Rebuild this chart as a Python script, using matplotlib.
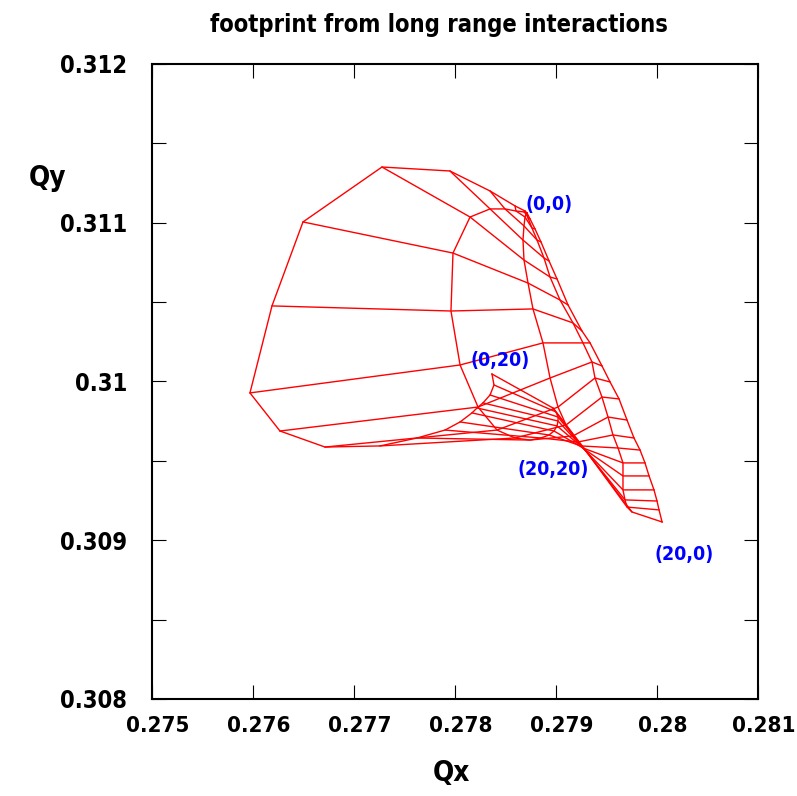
import numpy as np
import matplotlib.pyplot as plt
import matplotlib.transforms as mtransforms


# -----------------------------
# Footprint mesh
# each ray = one amplitude direction, index = amplitude step 0..20
# -----------------------------

qx_t0=[0.278713,0.278693,0.278594,0.278347,0.277950,0.277277,0.276495,0.276188,0.275970,0.276267,0.276713,
       0.277257,0.277624,0.277901,0.278050,0.278168,0.278218,0.278277,0.278347,0.278386,0.278366]
qy_t0=[0.311061,0.311074,0.311106,0.311200,0.311326,0.311351,0.311005,0.310476,0.309928,0.309688,0.309587,
       0.309594,0.309644,0.309694,0.309745,0.309802,0.309833,0.309865,0.309915,0.309978,0.310047]

qx_t1=[0.278713,0.278683,0.278604,0.278495,0.278347,0.278149,0.277980,0.277960,0.278050,0.278228,0.278416,
       0.278594,0.278743,0.278851,0.278931,0.278980,0.279010,0.279020,0.279020,0.279000,0.278970]
qy_t1=[0.311061,0.311068,0.311074,0.311087,0.311087,0.311036,0.310809,0.310444,0.310104,0.309839,0.309694,
       0.309644,0.309631,0.309644,0.309663,0.309688,0.309720,0.309751,0.309776,0.309808,0.309833]

qx_t2=[0.278713,0.278703,0.278693,0.278683,0.278673,0.278683,0.278723,0.278772,0.278871,0.278941,0.279020,
       0.279099,0.279168,0.279218,0.279248,0.279267,0.279277,0.279287,0.279287,0.279297,0.279297]
qy_t2=[0.311061,0.311055,0.311036,0.310980,0.310891,0.310765,0.310620,0.310457,0.310243,0.310022,0.309839,
       0.309726,0.309657,0.309619,0.309594,0.309581,0.309575,0.309568,0.309568,0.309562,0.309562]

qx_t3=[0.278713,0.278723,0.278762,0.278812,0.278881,0.278941,0.279040,0.279168,0.279267,0.279356,0.279386,
       0.279455,0.279515,0.279564,0.279614,0.279663,0.279663,0.279663,0.279683,0.279703,0.279752]
qy_t3=[0.311061,0.311030,0.310967,0.310891,0.310778,0.310658,0.310513,0.310369,0.310243,0.310123,0.310022,
       0.309902,0.309776,0.309663,0.309581,0.309487,0.309405,0.309317,0.309254,0.309209,0.309178]

qx_t4=[0.278713,0.278743,0.278792,0.278851,0.278931,0.279010,0.279119,0.279257,0.279337,0.279455,0.279535,
       0.279624,0.279703,0.279772,0.279832,0.279881,0.279921,0.279970,0.280000,0.280020,0.280050]
qy_t4=[0.311061,0.311024,0.310961,0.310879,0.310759,0.310646,0.310482,0.310318,0.310243,0.310098,0.309997,
       0.309890,0.309757,0.309644,0.309568,0.309487,0.309405,0.309317,0.309247,0.309191,0.309115]

# corner labels
lab_text=["(0,0)","(0,20)","(20,20)","(20,0)"]
lab_qx=[0.278931,0.278446,0.278970,0.280267]
lab_qy=[0.311112,0.310135,0.309443,0.308913]

xticks=[0.275,0.276,0.277,0.278,0.279,0.280,0.281]
xticklabels=["0.275","0.276","0.277","0.278","0.279","0.28","0.281"]
yticks=[0.308,0.309,0.310,0.311,0.312]
yticklabels=["0.308","0.309","0.31","0.311","0.312"]


# -----------------------------
# PLOT
# -----------------------------

plt.rcParams['font.family']=['DejaVu Sans']
plt.rcParams['font.stretch']='condensed'
plt.rcParams['font.weight']='bold'

fig=plt.figure(figsize=(7.97,7.96),dpi=100)
ax=fig.add_axes([0.1907,0.1219,0.7604,0.7977])

QX=np.array([qx_t0,qx_t1,qx_t2,qx_t3,qx_t4])
QY=np.array([qy_t0,qy_t1,qy_t2,qy_t3,qy_t4])

# rays
for i in range(QX.shape[0]):
    ax.plot(QX[i],QY[i],color='red',lw=1.0)

# amplitude rings
for k in range(QX.shape[1]):
    ax.plot(QX[:,k],QY[:,k],color='red',lw=1.0)

for t,x,y in zip(lab_text,lab_qx,lab_qy):
    ax.text(x,y,t,color='blue',fontsize=14,fontweight='bold',ha='center',va='center')

ax.set_xlim(0.275,0.281)
ax.set_ylim(0.308,0.312)

ax.set_xticks(xticks)
ax.set_xticklabels(xticklabels)
ax.set_yticks(yticks)
ax.set_yticklabels(yticklabels)
ax.set_yticks([0.3085,0.3095,0.3105,0.3115],minor=True)

ax.tick_params(which='both',direction='in',top=True,right=True,length=10,width=0.8)
ax.tick_params(axis='x',labelsize=16,pad=12)
ax.tick_params(axis='y',labelsize=17,pad=18)

shift=mtransforms.ScaledTranslation(6/100,0,fig.dpi_scale_trans)
for lab in ax.get_xticklabels():
    lab.set_transform(lab.get_transform()+shift)

for s in ax.spines.values():
    s.set_linewidth(1.5)

fig.text(439/797,1-25/796,"footprint from long range interactions",fontsize=17,fontweight='bold',ha='center',va='center')
fig.text(451/797,1-773/796,"Qx",fontsize=20,fontweight='bold',ha='center',va='center')
fig.text(47/797,1-178/796,"Qy",fontsize=20,fontweight='bold',ha='center',va='center')

plt.savefig("out.png",dpi=100)
